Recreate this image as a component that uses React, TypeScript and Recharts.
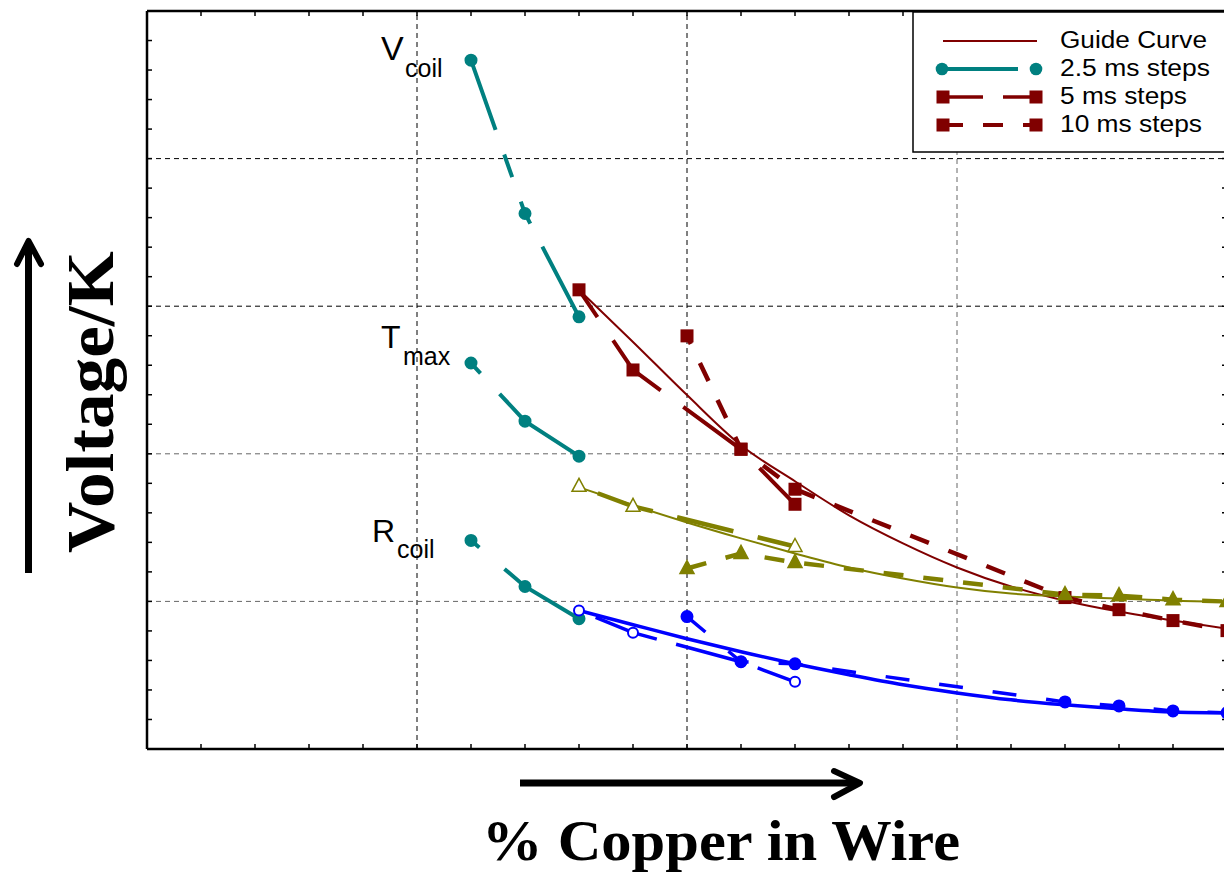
import React from 'react';
import { LineChart, Line, XAxis, YAxis, ReferenceLine } from 'recharts';

const TEAL = '#008080';
const DARK_RED = '#800000';
const OLIVE = '#808000';
const BLUE = '#0000ff';

// x: grid units of % copper (grid line every 1), y: grid units of voltage/K
const fineX = [1.2, 1.4, 1.6];
const vcoilFineY = [4.667, 3.628, 2.928];
const tmaxFineY = [2.615, 2.221, 1.984];
const rcoilFineY = [1.413, 1.101, 0.883];

const vcoil5X = [1.6, 1.8, 2.2, 2.4];
const vcoil5Y = [3.111, 2.568, 2.031, 1.658];
const tmax5X = [1.6, 1.8, 2.4];
const tmax5Y = [1.78, 1.644, 1.372];
const rcoil5X = [1.6, 1.8, 2.2, 2.4];
const rcoil5Y = [0.938, 0.788, 0.591, 0.455];

const coarseX = [2.0, 2.2, 2.4, 3.4, 3.6, 3.8, 4.0];
const vcoil10Y = [2.799, 2.031, 1.76, 1.026, 0.944, 0.87, 0.802];
const tmax10Y = [1.223, 1.325, 1.264, 1.046, 1.039, 1.012, 0.999];
const rcoil10Y = [0.897, 0.591, 0.577, 0.319, 0.292, 0.258, 0.245];

const guideX = [1.6, 1.8, 2.0, 2.2, 2.4, 2.6, 2.8, 3.0, 3.2, 3.4, 3.6, 3.8, 4.0];
const vcoilGuideY = [3.111, 2.758, 2.398, 2.058, 1.814, 1.583, 1.393, 1.23, 1.101, 1.005, 0.931, 0.87, 0.815];
const tmaxGuideY = [1.773, 1.651, 1.535, 1.427, 1.325, 1.23, 1.155, 1.094, 1.053, 1.033, 1.019, 1.005, 0.999];
const rcoilGuideY = [0.938, 0.842, 0.747, 0.659, 0.577, 0.503, 0.435, 0.38, 0.333, 0.299, 0.272, 0.251, 0.245];

const xTicks = Array.from({ length: 21 }, (_, i) => Math.round(i * 2) / 10);
const yTicks = Array.from({ length: 26 }, (_, i) => Math.round(i * 2) / 10);

const pts = (xs: number[], ys: number[]) => xs.map((x, i) => ({ x, y: ys[i] }));

const circleDot = (fill: string, stroke: string, r: number) => (props: any) => {
    const { cx, cy, index } = props;
    return <circle key={`c-${index}-${cx}`} cx={cx} cy={cy} r={r} fill={fill} stroke={stroke} strokeWidth={2} />;
};

const squareDot = (props: any) => {
    const { cx, cy, index } = props;
    return <rect key={`s-${index}-${cx}`} x={cx - 6.5} y={cy - 6.5} width={13} height={13} fill={DARK_RED} />;
};

const triangleDot = (filled: boolean) => (props: any) => {
    const { cx, cy, index } = props;
    return (
        <path
            key={`t-${index}-${cx}`}
            d={`M${cx},${cy - 8} L${cx + 7},${cy + 5} L${cx - 7},${cy + 5} Z`}
            fill={filled ? OLIVE : '#fff'}
            stroke={OLIVE}
            strokeWidth={1.5}
        />
    );
};

// no tick labels, only the inward tick marks
const NoLabel = () => <g />;

const sans = 'Liberation Sans, Arial, Helvetica, sans-serif';
const serif = 'Liberation Serif, Times New Roman, serif';

const frameAxis = {
    tick: NoLabel,
    mirror: true,
    tickSize: 5,
    interval: 0 as const,
    allowDataOverflow: true,
    axisLine: { stroke: '#000', strokeWidth: 2.5 },
    tickLine: { stroke: '#000', strokeWidth: 1.5 },
};

const Overlay: React.FC = () => (
    <svg width={1224} height={881} style={{ position: 'absolute', left: 0, top: 0, pointerEvents: 'none' }}>
        {/* curve labels */}
        <g fontFamily={sans} fill="#000">
            <text x={381} y={60} fontSize={34}>V</text>
            <text x={405} y={77} fontSize={25}>coil</text>
            <text x={381} y={348} fontSize={32}>T</text>
            <text x={403} y={365} fontSize={25}>max</text>
            <text x={372} y={542} fontSize={32}>R</text>
            <text x={397} y={558} fontSize={25}>coil</text>
        </g>

        {/* legend */}
        <rect x={913} y={12} width={340} height={140} fill="#fff" stroke="#000" strokeWidth={1.5} />
        <line x1={943} y1={41} x2={1037} y2={41} stroke={DARK_RED} strokeWidth={2} />
        <line x1={942} y1={69} x2={1018} y2={69} stroke={TEAL} strokeWidth={4} />
        <circle cx={942} cy={69} r={6.3} fill={TEAL} />
        <circle cx={1036} cy={69} r={6.3} fill={TEAL} />
        <line x1={943} y1={97} x2={983} y2={97} stroke={DARK_RED} strokeWidth={3.5} />
        <line x1={1003} y1={97} x2={1036} y2={97} stroke={DARK_RED} strokeWidth={3.5} />
        <rect x={936.5} y={90.5} width={13} height={13} fill={DARK_RED} />
        <rect x={1029.5} y={90.5} width={13} height={13} fill={DARK_RED} />
        <line x1={943} y1={125} x2={963} y2={125} stroke={DARK_RED} strokeWidth={4} />
        <line x1={983} y1={125} x2={1003} y2={125} stroke={DARK_RED} strokeWidth={4} />
        <line x1={1023} y1={125} x2={1036} y2={125} stroke={DARK_RED} strokeWidth={4} />
        <rect x={936.5} y={118.5} width={13} height={13} fill={DARK_RED} />
        <rect x={1029.5} y={118.5} width={13} height={13} fill={DARK_RED} />
        <g fontFamily={sans} fontSize={23} fill="#000">
            <text x={1060} y={48} textLength={147} lengthAdjust="spacingAndGlyphs">Guide Curve</text>
            <text x={1060} y={76} textLength={150} lengthAdjust="spacingAndGlyphs">2.5 ms steps</text>
            <text x={1060} y={104} textLength={127} lengthAdjust="spacingAndGlyphs">5 ms steps</text>
            <text x={1060} y={132} textLength={142} lengthAdjust="spacingAndGlyphs">10 ms steps</text>
        </g>

        {/* axis arrows and titles */}
        <line x1={520} y1={783} x2={858} y2={783} stroke="#000" strokeWidth={7} />
        <polyline points="834,771 860,783 834,797" fill="none" stroke="#000" strokeWidth={6} strokeLinecap="round" strokeLinejoin="round" />
        <line x1={28.5} y1={573} x2={28.5} y2={243} stroke="#000" strokeWidth={7} />
        <polyline points="17,264 28.5,241 41,264" fill="none" stroke="#000" strokeWidth={6} strokeLinecap="round" strokeLinejoin="round" />
        <text
            x={721}
            y={860}
            textAnchor="middle"
            fontFamily={serif}
            fontWeight="bold"
            fontSize={58}
            textLength={478}
            lengthAdjust="spacingAndGlyphs"
        >
            % Copper in Wire
        </text>
        <text
            transform="translate(113,402) rotate(-90)"
            textAnchor="middle"
            fontFamily={serif}
            fontWeight="bold"
            fontSize={68}
            textLength={302}
            lengthAdjust="spacingAndGlyphs"
        >
            Voltage/K
        </text>
    </svg>
);

const App: React.FC = () => {
    return (
        <div style={{ position: 'absolute', left: 0, top: 0, width: 1224, height: 881, overflow: 'hidden', background: '#fff' }}>
            <LineChart width={1240} height={881} margin={{ top: 11, right: 13, bottom: 132, left: 147 }}>
                <XAxis {...frameAxis} dataKey="x" type="number" domain={[0, 4]} ticks={xTicks} height={1} />
                <XAxis {...frameAxis} xAxisId="top" orientation="top" dataKey="x" type="number" domain={[0, 4]} ticks={xTicks} height={1} />
                <YAxis {...frameAxis} type="number" domain={[0, 5]} ticks={yTicks} width={1} />
                <YAxis {...frameAxis} yAxisId="right" orientation="right" type="number" domain={[0, 5]} ticks={yTicks} width={1} />

                <ReferenceLine x={1} stroke="#000" strokeDasharray="5 4" />
                <ReferenceLine x={2} stroke="#000" strokeDasharray="5 4" />
                <ReferenceLine x={3} stroke="#666" strokeDasharray="5 4" />
                <ReferenceLine y={1} stroke="#666" strokeDasharray="5 4" />
                <ReferenceLine y={2} stroke="#666" strokeDasharray="5 4" />
                <ReferenceLine y={3} stroke="#000" strokeDasharray="5 4" />
                <ReferenceLine y={4} stroke="#000" strokeDasharray="5 4" />

                {/* guide curves */}
                <Line data={pts(guideX, vcoilGuideY)} dataKey="y" name="vcoil-guide" type="monotone" stroke={DARK_RED} strokeWidth={2} dot={false} activeDot={false} isAnimationActive={false} />
                <Line data={pts(guideX, tmaxGuideY)} dataKey="y" name="tmax-guide" type="monotone" stroke={OLIVE} strokeWidth={2} dot={false} activeDot={false} isAnimationActive={false} />
                <Line data={pts(guideX, rcoilGuideY)} dataKey="y" name="rcoil-guide" type="monotone" stroke={BLUE} strokeWidth={3.5} dot={false} activeDot={false} isAnimationActive={false} />

                {/* 2.5 ms steps */}
                <Line data={pts(fineX, vcoilFineY)} dataKey="y" name="vcoil-2.5" type="linear" stroke={TEAL} strokeWidth={4} strokeDasharray="74 26 24 26 24 26 200" dot={circleDot(TEAL, TEAL, 5.5)} activeDot={false} isAnimationActive={false} />
                <Line data={pts(fineX, tmaxFineY)} dataKey="y" name="tmax-2.5" type="linear" stroke={TEAL} strokeWidth={4} strokeDasharray="14 28 400" dot={circleDot(TEAL, TEAL, 5.5)} activeDot={false} isAnimationActive={false} />
                <Line data={pts(fineX, rcoilFineY)} dataKey="y" name="rcoil-2.5" type="linear" stroke={TEAL} strokeWidth={4} strokeDasharray="11 33 400" dot={circleDot(TEAL, TEAL, 5.5)} activeDot={false} isAnimationActive={false} />

                {/* 5 ms steps */}
                <Line data={pts(vcoil5X, vcoil5Y)} dataKey="y" name="vcoil-5" type="linear" stroke={DARK_RED} strokeWidth={4} strokeDasharray="70 28" strokeDashoffset={37} dot={squareDot} activeDot={false} isAnimationActive={false} />
                <Line data={pts(tmax5X, tmax5Y)} dataKey="y" name="tmax-5" type="linear" stroke={OLIVE} strokeWidth={4.5} strokeDasharray="58 25" strokeDashoffset={63} dot={triangleDot(false)} activeDot={false} isAnimationActive={false} />
                <Line data={pts(rcoil5X, rcoil5Y)} dataKey="y" name="rcoil-5" type="linear" stroke={BLUE} strokeWidth={3.5} strokeDasharray="65 20" strokeDashoffset={67} dot={circleDot('#fff', BLUE, 5)} activeDot={false} isAnimationActive={false} />

                {/* 10 ms steps */}
                <Line data={pts(coarseX, vcoil10Y)} dataKey="y" name="vcoil-10" type="linear" stroke={DARK_RED} strokeWidth={4.5} strokeDasharray="20 21" strokeDashoffset={11} dot={squareDot} activeDot={false} isAnimationActive={false} />
                <Line data={pts(coarseX, tmax10Y)} dataKey="y" name="tmax-10" type="linear" stroke={OLIVE} strokeWidth={4.5} strokeDasharray="20 20" dot={triangleDot(true)} activeDot={false} isAnimationActive={false} />
                <Line data={pts(coarseX, rcoil10Y)} dataKey="y" name="rcoil-10" type="linear" stroke={BLUE} strokeWidth={3.5} strokeDasharray="24 30" dot={circleDot(BLUE, BLUE, 5.5)} activeDot={false} isAnimationActive={false} />
            </LineChart>
            <Overlay />
        </div>
    );
};

export default App;
